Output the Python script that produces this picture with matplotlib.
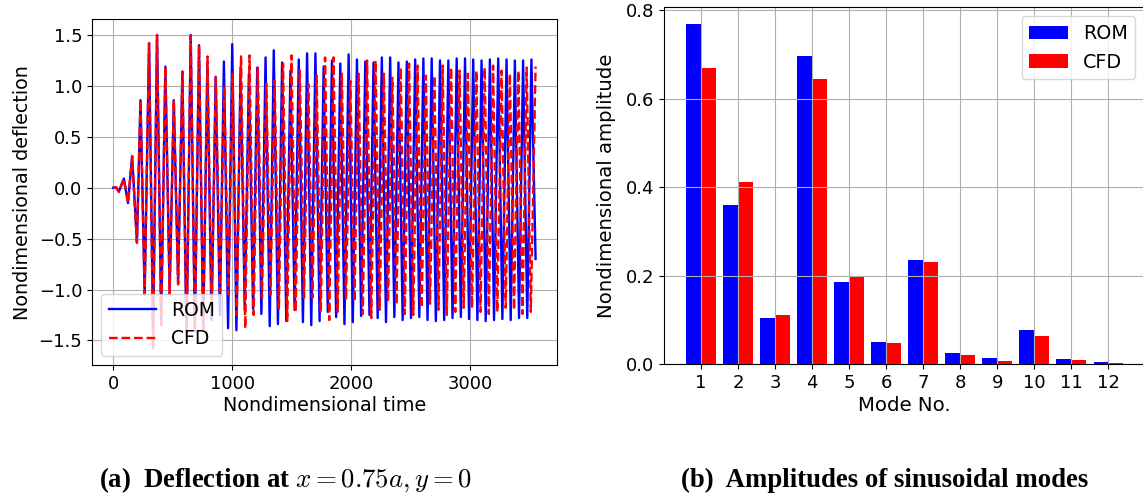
import numpy as np
import matplotlib
matplotlib.use("Agg")
import matplotlib.pyplot as plt

plt.rcParams['mathtext.fontset'] = 'cm'

rom_peak_t = [90, 160, 230, 302, 369, 439, 510, 582, 652,
              722, 792, 862, 931, 1001, 1071, 1141, 1211, 1281, 1350,
              1420, 1490, 1560, 1630, 1700, 1769, 1839, 1909, 1979, 2049,
              2119, 2188, 2258, 2328, 2398, 2468, 2538, 2607, 2677, 2747,
              2817, 2887, 2957, 3026, 3096, 3166, 3236, 3306, 3376, 3445, 3515]
rom_peak_y = [0.09, 0.31, 0.86, 1.42, 1.50, 1.19, 0.86, 1.14, 1.50,
              1.40, 1.20, 1.09, 1.24, 1.41, 1.18, 1.12, 1.18, 1.28, 1.35,
              1.23, 1.15, 1.26, 1.32, 1.32, 1.19, 1.25, 1.22, 1.31, 1.26,
              1.24, 1.23, 1.28, 1.28, 1.23, 1.24, 1.26, 1.27, 1.27, 1.25,
              1.25, 1.27, 1.27, 1.26, 1.25, 1.26, 1.27, 1.26, 1.25, 1.25, 1.26]
rom_trough_t = [0, 25, 48, 125, 200, 265, 336, 404, 475, 546, 617, 687,
                757, 827, 897, 966, 1036, 1106, 1176, 1246, 1316, 1385,
                1455, 1525, 1595, 1665, 1735, 1804, 1874, 1944, 2014, 2084,
                2154, 2223, 2293, 2363, 2433, 2503, 2573, 2642, 2712, 2782,
                2852, 2922, 2991, 3061, 3131, 3201, 3271, 3341, 3411, 3480, 3550]
rom_trough_y = [0.0, 0.005, -0.04, -0.15, -0.54, -1.05, -1.42, -1.30, -1.02, -0.93, -1.52, -1.41,
                -1.40, -1.30, -1.25, -1.38, -1.40, -1.20, -1.19, -1.24, -1.36, -1.34,
                -1.31, -1.20, -1.32, -1.35, -1.31, -1.22, -1.27, -1.34, -1.32, -1.26,
                -1.25, -1.28, -1.32, -1.27, -1.30, -1.28, -1.27, -1.30, -1.31, -1.30,
                -1.28, -1.27, -1.29, -1.30, -1.31, -1.30, -1.29, -1.30, -1.28, -1.28, -0.70]

cfd_peak_t = [90, 160, 230, 302, 369, 439, 510, 582, 652,
              722, 793, 863, 934, 1004, 1075, 1146, 1216, 1287, 1357,
              1428, 1499, 1569, 1640, 1710, 1781, 1852, 1922, 1993, 2063,
              2134, 2205, 2275, 2346, 2416, 2487, 2558, 2628, 2699, 2769,
              2840, 2911, 2981, 3052, 3122, 3193, 3264, 3334, 3405, 3475, 3550]
cfd_peak_y = [0.09, 0.31, 0.86, 1.42, 1.50, 1.19, 0.86, 1.14, 1.49,
              1.40, 1.29, 1.08, 1.00, 1.12, 1.29, 1.30, 1.18, 1.02, 1.05,
              1.22, 1.30, 1.15, 1.02, 1.10, 1.28, 1.28, 1.12, 1.05, 1.12,
              1.25, 1.25, 1.12, 1.08, 1.18, 1.22, 1.20, 1.10, 1.10, 1.20,
              1.18, 1.15, 1.12, 1.15, 1.18, 1.20, 1.15, 1.12, 1.15, 1.18, 1.19]
cfd_trough_t = [0, 25, 48, 125, 200, 265, 336, 404, 475, 546, 617, 687,
                757, 828, 898, 969, 1039, 1110, 1181, 1251, 1322, 1393,
                1463, 1534, 1604, 1675, 1745, 1816, 1887, 1957, 2028, 2098,
                2169, 2240, 2310, 2381, 2451, 2522, 2593, 2663, 2734, 2804,
                2875, 2946, 3016, 3087, 3157, 3228, 3299, 3369, 3440, 3510]
cfd_trough_y = [0.0, 0.005, -0.04, -0.15, -0.54, -1.05, -1.59, -1.35, -1.05, -0.95, -1.45, -1.40,
                -1.38, -1.22, -1.02, -1.05, -1.25, -1.38, -1.25, -1.08, -1.05, -1.20,
                -1.31, -1.22, -1.08, -1.08, -1.22, -1.30, -1.22, -1.10, -1.12, -1.24,
                -1.28, -1.20, -1.12, -1.15, -1.24, -1.25, -1.18, -1.14, -1.20, -1.25,
                -1.22, -1.18, -1.18, -1.22, -1.24, -1.22, -1.18, -1.20, -1.24, -1.22]

# ---- (b) modal amplitudes ----
modes = np.arange(1, 13)
rom_amp = [0.770, 0.360, 0.103, 0.696, 0.186, 0.049, 0.236, 0.024, 0.014, 0.077, 0.011, 0.004]
cfd_amp = [0.669, 0.412, 0.112, 0.646, 0.199, 0.048, 0.230, 0.021, 0.007, 0.063, 0.009, 0.003]


def series(pt, py, tt, ty):
    t = np.concatenate([pt, tt])
    y = np.concatenate([py, ty])
    order = np.argsort(t, kind='stable')
    return t[order], y[order]


rom_t, rom_y = series(rom_peak_t, rom_peak_y, rom_trough_t, rom_trough_y)
cfd_t, cfd_y = series(cfd_peak_t, cfd_peak_y, cfd_trough_t, cfd_trough_y)

W, H = 1143, 499
fig = plt.figure(figsize=(W / 100, H / 100), dpi=100)

fs = 13      # ticks
lfs = 13.8   # axis labels / legends
ax1 = fig.add_axes([92 / W, 1 - 365.3 / H, (556.7 - 92) / W, (365.3 - 19.3) / H])
ax1.plot(rom_t, rom_y, color='blue', lw=1.7, label='ROM')
ax1.plot(cfd_t, cfd_y, color='red', lw=1.7, ls='--', label='CFD')
ax1.grid(True)
ax1.set_xticks([0, 1000, 2000, 3000])
ax1.set_yticks([-1.5, -1.0, -0.5, 0.0, 0.5, 1.0, 1.5])
ax1.tick_params(labelsize=fs)
ax1.set_xlabel('Nondimensional time', fontsize=lfs, labelpad=2)
ax1.set_ylabel('Nondimensional deflection', fontsize=lfs, labelpad=5)
ax1.legend(loc='lower left', fontsize=13.5, handlelength=2.5)

ax2 = fig.add_axes([664.3 / W, 1 - 364 / H, (1145 - 664.3) / W, (364 - 6.7) / H])
ax2.bar(modes - 0.2, rom_amp, width=0.4, color='blue', label='ROM')
ax2.bar(modes + 0.2, cfd_amp, width=0.4, color='red', label='CFD')
ax2.set_xticks(modes)
ax2.set_yticks([0.0, 0.2, 0.4, 0.6, 0.8])
ax2.grid(True)
ax2.tick_params(labelsize=fs)
ax2.set_xlabel('Mode No.', fontsize=14.2, labelpad=3)
ax2.set_ylabel('Nondimensional amplitude', fontsize=14.2, labelpad=7)
ax2.legend(loc='upper right', fontsize=lfs)

cap = dict(family='Liberation Serif', weight='bold', fontsize=19.3, ha='center', va='baseline')
fig.text(286 / W, 1 - 487 / H, r'(a)  Deflection at $x = 0.75a, y = 0$', **cap)
fig.text(885 / W, 1 - 487 / H, '(b)  Amplitudes of sinusoidal modes', **cap)

fig.savefig('out.png', dpi=100)
